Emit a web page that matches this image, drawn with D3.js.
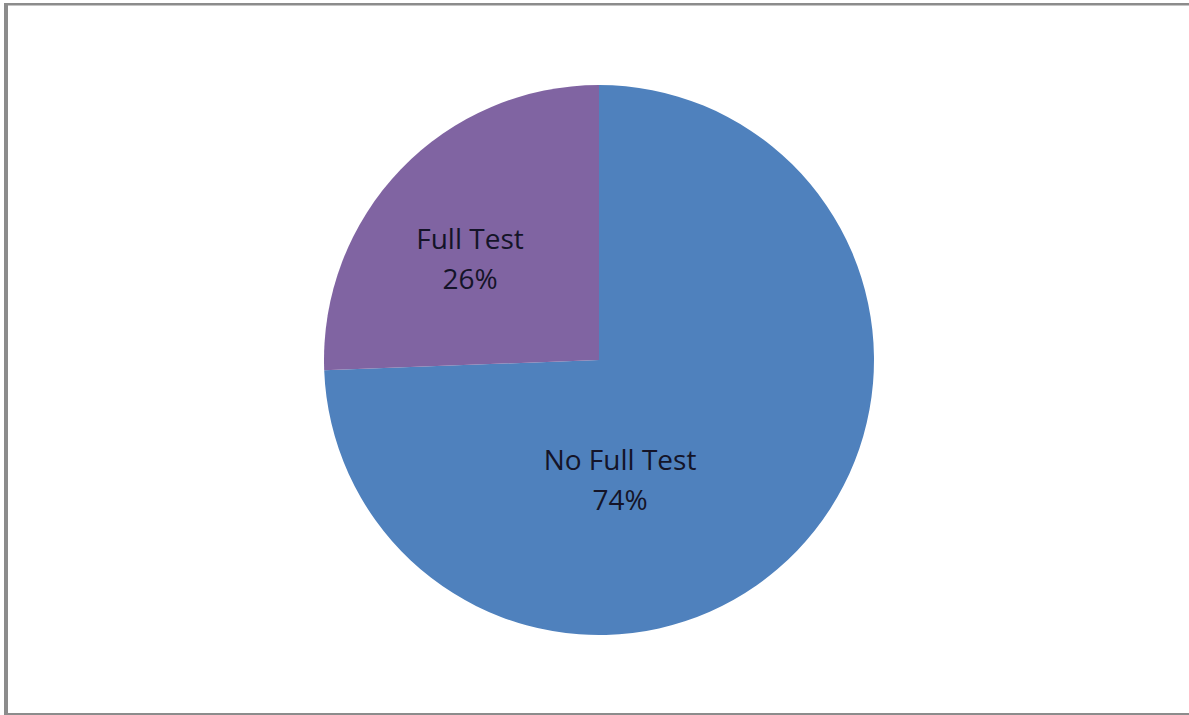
<!DOCTYPE html>
<html><head><meta charset="utf-8">
<script src="https://cdn.jsdelivr.net/npm/d3@7"></script>
<style>html,body{margin:0;padding:0;background:#fff;}svg{display:block;}</style>
</head><body>
<svg id="c" width="1189" height="715"></svg>
<script>
const categories = ["No Full Test", "Full Test"];
const values = [74.4, 25.6];
const colors = ["#4F81BD", "#8064A2"];

const svg = d3.select("#c");
// frame
svg.append("rect").attr("x",4).attr("y",3).attr("width",4).attr("height",712).attr("fill","#8c8c8c");
svg.append("rect").attr("x",4).attr("y",3).attr("width",1185).attr("height",2.5).attr("fill","#8c8c8c");
svg.append("rect").attr("x",8).attr("y",713).attr("width",1181).attr("height",2).attr("fill","#8c8c8c");

const cx = 599, cy = 360, r = 275;
const g = svg.append("g").attr("transform",`translate(${cx},${cy})`);
const pie = d3.pie().sort(null).value(d=>d.v).startAngle(0).endAngle(2*Math.PI);
const data = categories.map((c,i)=>({c, v: values[i], col: colors[i]}));
const arcs = pie(data);
const arc = d3.arc().innerRadius(0).outerRadius(r);
g.selectAll("path").data(arcs).enter().append("path")
  .attr("d", arc).attr("fill", d=>d.data.col);

const total = d3.sum(values);
const offsets = [[21,120],[-129,-101]];
arcs.forEach((a,i)=>{
  const [ox,oy] = offsets[i];
  const t = g.append("text").attr("text-anchor","middle")
    .attr("font-family","'Open Sans', sans-serif").attr("font-size",28).attr("fill","#141428");
  t.append("tspan").attr("x",ox).attr("y",oy-10).text(a.data.c);
  t.append("tspan").attr("x",ox).attr("y",oy+30).text(Math.round(a.data.v/total*100)+"%");
});
</script>
</body></html>
